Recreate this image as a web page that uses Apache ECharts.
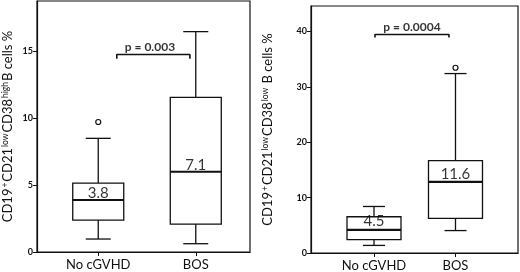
<!DOCTYPE html>
<html>
<head>
<meta charset="utf-8">
<script src="https://cdn.jsdelivr.net/npm/echarts@6/dist/echarts.min.js"></script>
<style>
    html, body { margin: 0; padding: 0; background: #fff; }
    #chart { width: 520px; height: 272px; }
</style>
</head>
<body>
<div id="chart"></div>
<script>
    // categories on the x axis (0 = No cGVHD, 1 = BOS)
    let groups = ['No cGVHD', 'BOS'];
    let groupPos = [0, 1];

    // left panel: [pos, low whisker, Q1, median, Q3, high whisker]
    let leftBoxes = [
        [0, 0.97, 2.39, 3.89, 5.15, 8.5],
        [1, 0.62, 2.09, 6.0, 11.57, 16.48]
    ];
    let leftOutliers = [[0, 9.72]];
    let leftNotes = [[0, 4.39, '3.8'], [1, 6.5, '7.1']];
    let leftBracket = [[0.19, 14.45], [0.19, 14.77], [0.94, 14.77], [0.94, 14.45]];
    let leftP = [[0.53, 15.35, 'p = 0.003']];
    let leftTicks = [0, 5, 10, 15];

    // right panel
    let rightBoxes = [
        [0, 1.37, 2.4, 4.17, 6.55, 8.4],
        [1, 4.05, 6.25, 12.86, 16.67, 32.4]
    ];
    let rightOutliers = [[1, 33.45]];
    let rightNotes = [[0, 5.66, '4.5'], [1, 14.16, '11.6']];
    let rightBracket = [[0.012, 38.9], [0.012, 39.46], [0.92, 39.46], [0.92, 38.9]];
    let rightP = [[0.466, 40.75, 'p = 0.0004']];
    let rightTicks = [0, 10, 20, 30, 40];

    let ink = '#111';
    let font = 'Lato';

    function boxRenderer(boxW, capW) {
        return function (params, api) {
            let x = api.value(0);
            let lo = api.coord([x, api.value(1)]);
            let q1 = api.coord([x, api.value(2)]);
            let md = api.coord([x, api.value(3)]);
            let q3 = api.coord([x, api.value(4)]);
            let hi = api.coord([x, api.value(5)]);
            let cx = lo[0];
            let st = {stroke: ink, lineWidth: 1.3, fill: null};
            return {
                type: 'group',
                children: [
                    {type: 'line', shape: {x1: cx, y1: hi[1], x2: cx, y2: q3[1]}, style: st},
                    {type: 'line', shape: {x1: cx, y1: q1[1], x2: cx, y2: lo[1]}, style: st},
                    {type: 'line', shape: {x1: cx - capW / 2, y1: hi[1], x2: cx + capW / 2, y2: hi[1]}, style: st},
                    {type: 'line', shape: {x1: cx - capW / 2, y1: lo[1], x2: cx + capW / 2, y2: lo[1]}, style: st},
                    {type: 'rect', shape: {x: cx - boxW / 2, y: q3[1], width: boxW, height: q1[1] - q3[1]},
                        style: {stroke: ink, lineWidth: 1.3, fill: '#fff'}},
                    {type: 'line', shape: {x1: cx - boxW / 2, y1: md[1], x2: cx + boxW / 2, y2: md[1]},
                        style: {stroke: ink, lineWidth: 2.2}}
                ]
            };
        };
    }

    function xAxisFor(idx, min, max) {
        return {
            type: 'value', gridIndex: idx, min: min, max: max,
            splitLine: {show: false},
            axisLine: {onZero: false, lineStyle: {color: ink, width: 1.2}},
            axisTick: {customValues: groupPos, length: 4, lineStyle: {color: ink}},
            axisLabel: {
                customValues: groupPos, color: ink, fontFamily: font, fontSize: 13, margin: 6,
                formatter: (v) => groups[Math.round(v)]
            }
        };
    }

    function yAxisFor(idx, max, ticks, name, gap) {
        return {
            type: 'value', gridIndex: idx, min: 0, max: max,
            splitLine: {show: false},
            axisLine: {onZero: false, lineStyle: {color: ink, width: 1.2}},
            axisTick: {customValues: ticks, length: 4, lineStyle: {color: ink}},
            axisLabel: {customValues: ticks, color: ink, fontFamily: font, fontSize: 9, fontWeight: 'bold', margin: 4},
            name: name,
            nameLocation: 'middle',
            nameRotate: 90,
            nameGap: gap,
            nameTextStyle: {
                color: ink, fontFamily: font, fontSize: 13,
                rich: {
                    a: {fontFamily: font, fontSize: 13, color: ink, verticalAlign: 'bottom'},
                    s: {fontFamily: font, fontSize: 8.5, color: ink, verticalAlign: 'top', padding: [0, 1, 0, 1]}
                }
            }
        };
    }

    function panelSeries(idx, boxes, outliers, notes, bracket, pText, boxW, capW) {
        return [
            {
                type: 'custom', xAxisIndex: idx, yAxisIndex: idx,
                renderItem: boxRenderer(boxW, capW),
                encode: {x: 0, y: [1, 2, 3, 4, 5]},
                data: boxes
            },
            {
                type: 'scatter', xAxisIndex: idx, yAxisIndex: idx,
                symbol: 'circle', symbolSize: 5,
                itemStyle: {color: '#fff', borderColor: ink, borderWidth: 1.2, opacity: 1},
                data: outliers
            },
            {
                type: 'line', xAxisIndex: idx, yAxisIndex: idx,
                symbol: 'none',
                lineStyle: {color: ink, width: 1.6},
                data: bracket
            },
            {
                type: 'scatter', xAxisIndex: idx, yAxisIndex: idx,
                symbolSize: 0,
                label: {show: true, position: 'inside', color: '#000', fontFamily: font, fontSize: 12,
                    fontWeight: 'bold', formatter: (p) => p.data[2]},
                data: pText
            },
            {
                type: 'scatter', xAxisIndex: idx, yAxisIndex: idx,
                symbolSize: 0,
                label: {show: true, position: 'inside', color: '#000', fontFamily: font, fontSize: 15,
                    formatter: (p) => p.data[2]},
                data: notes
            }
        ];
    }

    let myChart = echarts.init(document.getElementById('chart'));
    let option = {
        animation: false,
        backgroundColor: '#fff',
        grid: [
            {left: 36, top: 1, width: 214, height: 251, show: true, borderColor: ink, borderWidth: 1.2},
            {left: 311, top: 6, width: 207, height: 250, show: true, borderColor: ink, borderWidth: 1.2}
        ],
        xAxis: [
            xAxisFor(0, -0.628, 1.556),
            xAxisFor(1, -0.773, 1.767)
        ],
        yAxis: [
            yAxisFor(0, 18.77, leftTicks, '{a|CD19}{s|+}{a|CD21}{s|low}{a|CD38}{s|high}{a|B cells %}', 23),
            yAxisFor(1, 44.6, rightTicks, '{a|CD19}{s|+}{a|CD21}{s|low}{a|CD38}{s|low}{a| B cells %}', 37)
        ],
        series: [].concat(
            panelSeries(0, leftBoxes, leftOutliers, leftNotes, leftBracket, leftP, 51, 25),
            panelSeries(1, rightBoxes, rightOutliers, rightNotes, rightBracket, rightP, 54, 22)
        )
    };
    myChart.setOption(option);
</script>
</body>
</html>
